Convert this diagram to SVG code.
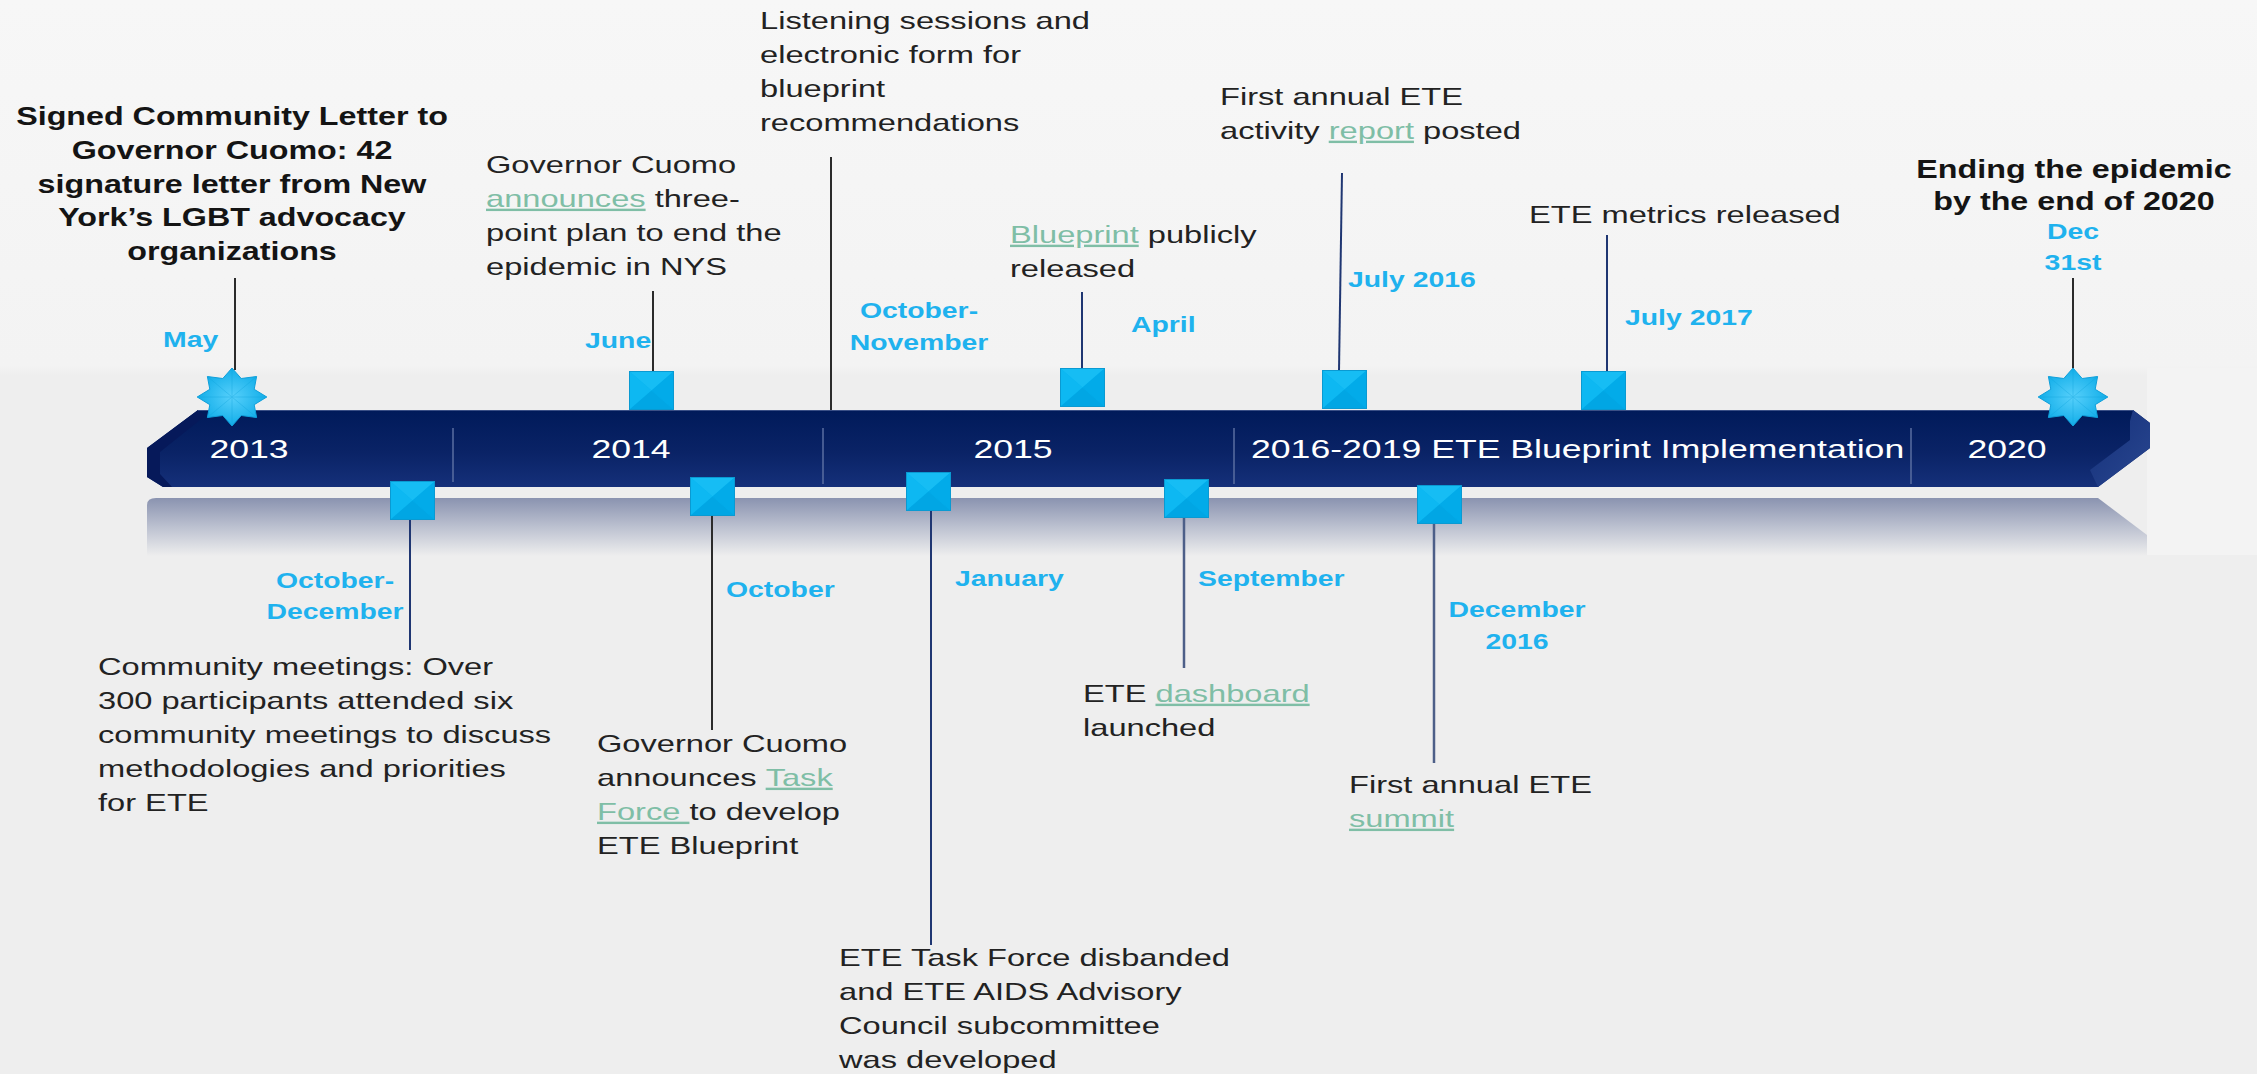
<svg xmlns="http://www.w3.org/2000/svg" xmlns:xlink="http://www.w3.org/1999/xlink" width="2257" height="1074" viewBox="0 0 2257 1074">
<defs>
<style>
.t{font-family:"Liberation Sans",Arial,sans-serif;font-size:24px;fill:#222}
.b{font-family:"Liberation Sans",Arial,sans-serif;font-size:25px;font-weight:bold;fill:#141414}
.d{font-family:"Liberation Sans",Arial,sans-serif;font-size:22px;font-weight:bold;fill:#1fb2ee}
.y{font-family:"Liberation Sans",Arial,sans-serif;font-size:26px;fill:#fff}
.lk{fill:#7fbea6;text-decoration:underline}
.cg{stroke:#2b2b2b;stroke-width:2;fill:none}
.cn{stroke:#1f3672;stroke-width:2;fill:none}
.cs{stroke:#4d5f88;stroke-width:2.5;fill:none}
.dv{stroke:#5a6ea0;stroke-width:1.5}
</style>
<linearGradient id="bg" x1="0" y1="0" x2="0" y2="1">
<stop offset="0" stop-color="#f7f7f7"/>
<stop offset="0.34" stop-color="#f3f3f3"/>
<stop offset="0.35" stop-color="#eeeeee"/>
<stop offset="1" stop-color="#eeeeee"/>
</linearGradient>
<linearGradient id="barg" x1="0" y1="0" x2="0" y2="1">
<stop offset="0" stop-color="#001a5a"/>
<stop offset="0.55" stop-color="#0a2366"/>
<stop offset="1" stop-color="#15307a"/>
</linearGradient>
<linearGradient id="refl" x1="0" y1="0" x2="0" y2="1">
<stop offset="0" stop-color="#8a93b0"/>
<stop offset="0.5" stop-color="#bcc1d0"/>
<stop offset="1" stop-color="#eeeeee"/>
</linearGradient>
<linearGradient id="bev" x1="0" y1="0" x2="1" y2="1">
<stop offset="0" stop-color="#14307a"/>
<stop offset="1" stop-color="#2a4790"/>
</linearGradient>
<radialGradient id="stg" cx="0.5" cy="0.5" r="0.5">
<stop offset="0" stop-color="#57d0fb"/>
<stop offset="1" stop-color="#12aee9"/>
</radialGradient>
<g id="sq">
<rect x="0" y="0" width="45" height="39" fill="#05b4f0"/>
<polygon points="0,0 45,0 22.5,19.5" fill="#16bdf4"/>
<polygon points="0,0 0,39 22.5,19.5" fill="#0db8f2"/>
<polygon points="45,0 45,39 22.5,19.5" fill="#02abe9"/>
<polygon points="0,39 45,39 22.5,19.5" fill="#01a6e4"/>
<rect x="0.5" y="0.5" width="44" height="38" fill="none" stroke="#0a9ad2" stroke-width="1"/>
</g>
<g id="star">
<polygon points="0,-29 9.2,-18.5 24.6,-20.5 22.2,-7.7 34.8,0 22.2,7.7 24.6,20.5 9.2,18.5 0,29 -9.2,18.5 -24.6,20.5 -22.2,7.7 -34.8,0 -22.2,-7.7 -24.6,-20.5 -9.2,-18.5" fill="url(#stg)" stroke="#0f9fda" stroke-width="1"/>
<path d="M0,-29 L0,29 M-34.8,0 L34.8,0 M-24.6,-20.5 L24.6,20.5 M24.6,-20.5 L-24.6,20.5" stroke="#0fa3dd" stroke-width="0.8" opacity="0.45"/>
</g>
</defs>

<rect x="0" y="0" width="2257" height="1074" fill="url(#bg)"/>
<rect x="2147" y="368" width="110" height="187" fill="#f3f3f3"/>

<g id="timeline-bar">
<path d="M147,505 Q147,498 156,498 L2098,498 L2147,535 L2147,556 L147,556 Z" fill="url(#refl)"/>
<path d="M198,410 L2133,410 L2150,423 L2150,448 L2098,487 L163,487 L147,477 L147,448 Z" fill="url(#barg)"/>
<path d="M198,410 L147,448 L147,477 L163,487 L172,487 L160,474 L160,452 L205,416 Z" fill="#06195a"/>
<path d="M2133,410 L2150,423 L2150,448 L2098,487 L2090,470 L2130,440 L2130,421 Z" fill="url(#bev)"/>
<line x1="198" y1="410.5" x2="2133" y2="410.5" stroke="#3a4f86" stroke-width="1"/>
<line class="dv" x1="453" y1="428" x2="453" y2="482"/>
<line class="dv" x1="823" y1="428" x2="823" y2="484"/>
<line class="dv" x1="1234" y1="428" x2="1234" y2="484"/>
<line class="dv" x1="1911" y1="428" x2="1911" y2="484"/>
<text class="y" text-anchor="middle" transform="translate(249,458) scale(1.37,1)">2013</text>
<text class="y" text-anchor="middle" transform="translate(631,458) scale(1.37,1)">2014</text>
<text class="y" text-anchor="middle" transform="translate(1013,458) scale(1.37,1)">2015</text>
<text class="y" transform="translate(1251,458) scale(1.37,1)">2016-2019 ETE Blueprint Implementation</text>
<text class="y" text-anchor="middle" transform="translate(2007,458) scale(1.37,1)">2020</text>
</g>

<g id="connectors">
<line class="cg" x1="235" y1="278" x2="235" y2="370"/>
<line class="cg" x1="653" y1="291" x2="653" y2="372"/>
<line class="cg" x1="831" y1="157" x2="831" y2="410"/>
<line class="cn" x1="1082" y1="292" x2="1082" y2="369"/>
<line class="cn" x1="1342" y1="173" x2="1339" y2="371"/>
<line class="cn" x1="1607" y1="235" x2="1607" y2="372"/>
<line class="cg" x1="2073" y1="278" x2="2073" y2="370"/>
<line class="cn" x1="410" y1="519" x2="410" y2="650"/>
<line class="cg" x1="712" y1="515" x2="712" y2="730"/>
<line class="cn" x1="931" y1="510" x2="931" y2="945"/>
<line class="cs" x1="1184" y1="517" x2="1184" y2="668"/>
<line class="cs" x1="1434" y1="524" x2="1434" y2="763"/>
</g>

<g id="node-may-2013">
<use xlink:href="#star" transform="translate(232,397)"/>
<text class="d" transform="translate(163,347) scale(1.29,1)">May</text>
<text class="b" text-anchor="middle" transform="translate(232,125) scale(1.29,1)"><tspan x="0" y="0">Signed Community Letter to</tspan><tspan x="0" y="34">Governor Cuomo: 42</tspan><tspan x="0" y="68">signature letter from New</tspan><tspan x="0" y="101">York’s LGBT advocacy</tspan><tspan x="0" y="135">organizations</tspan></text>
</g>

<g id="node-octdec-2013">
<use xlink:href="#sq" x="390" y="481"/>
<text class="d" text-anchor="middle" transform="translate(335,588) scale(1.29,1)"><tspan x="0" y="0">October-</tspan><tspan x="0" y="31">December</tspan></text>
<text class="t" transform="translate(98,675) scale(1.36,1)"><tspan x="0" y="0">Community meetings: Over</tspan><tspan x="0" y="34">300 participants attended six</tspan><tspan x="0" y="68">community meetings to discuss</tspan><tspan x="0" y="102">methodologies and priorities</tspan><tspan x="0" y="136">for ETE</tspan></text>
</g>

<g id="node-june-2014">
<use xlink:href="#sq" x="629" y="371"/>
<text class="d" transform="translate(585,348) scale(1.29,1)">June</text>
<text class="t" transform="translate(486,173) scale(1.36,1)"><tspan x="0" y="0">Governor Cuomo</tspan><tspan x="0" y="34"><tspan class="lk">announces</tspan> three-</tspan><tspan x="0" y="68">point plan to end the</tspan><tspan x="0" y="102">epidemic in NYS</tspan></text>
</g>

<g id="node-october-2014">
<use xlink:href="#sq" x="690" y="477"/>
<text class="d" transform="translate(726,597) scale(1.29,1)">October</text>
<text class="t" transform="translate(597,752) scale(1.36,1)"><tspan x="0" y="0">Governor Cuomo</tspan><tspan x="0" y="34">announces <tspan class="lk">Task</tspan></tspan><tspan x="0" y="68"><tspan class="lk">Force </tspan>to develop</tspan><tspan x="0" y="102">ETE Blueprint</tspan></text>
</g>

<g id="node-listening">
<text class="d" text-anchor="middle" transform="translate(919,318) scale(1.29,1)"><tspan x="0" y="0">October-</tspan><tspan x="0" y="32">November</tspan></text>
<text class="t" transform="translate(760,29) scale(1.36,1)"><tspan x="0" y="0">Listening sessions and</tspan><tspan x="0" y="34">electronic form for</tspan><tspan x="0" y="68">blueprint</tspan><tspan x="0" y="102">recommendations</tspan></text>
</g>

<g id="node-january-2015">
<use xlink:href="#sq" x="906" y="472"/>
<text class="d" transform="translate(955,586) scale(1.29,1)">January</text>
<text class="t" transform="translate(839,966) scale(1.36,1)"><tspan x="0" y="0">ETE Task Force disbanded</tspan><tspan x="0" y="34">and ETE AIDS Advisory</tspan><tspan x="0" y="68">Council subcommittee</tspan><tspan x="0" y="102">was developed</tspan></text>
</g>

<g id="node-april-2015">
<use xlink:href="#sq" x="1060" y="368"/>
<text class="d" transform="translate(1131,332) scale(1.29,1)">April</text>
<text class="t" transform="translate(1010,243) scale(1.36,1)"><tspan x="0" y="0"><tspan class="lk">Blueprint</tspan> publicly</tspan><tspan x="0" y="34">released</tspan></text>
</g>

<g id="node-september-2015">
<use xlink:href="#sq" x="1164" y="479"/>
<text class="d" transform="translate(1198,586) scale(1.29,1)">September</text>
<text class="t" transform="translate(1083,702) scale(1.36,1)"><tspan x="0" y="0">ETE <tspan class="lk">dashboard</tspan></tspan><tspan x="0" y="34">launched</tspan></text>
</g>

<g id="node-july-2016">
<use xlink:href="#sq" x="1322" y="370"/>
<text class="d" transform="translate(1348,287) scale(1.29,1)">July 2016</text>
<text class="t" transform="translate(1220,105) scale(1.36,1)"><tspan x="0" y="0">First annual ETE</tspan><tspan x="0" y="34">activity <tspan class="lk">report</tspan> posted</tspan></text>
</g>

<g id="node-december-2016">
<use xlink:href="#sq" x="1417" y="485"/>
<text class="d" text-anchor="middle" transform="translate(1517,617) scale(1.29,1)"><tspan x="0" y="0">December</tspan><tspan x="0" y="32">2016</tspan></text>
<text class="t" transform="translate(1349,793) scale(1.36,1)"><tspan x="0" y="0">First annual ETE</tspan><tspan x="0" y="34"><tspan class="lk">summit</tspan></tspan></text>
</g>

<g id="node-july-2017">
<use xlink:href="#sq" x="1581" y="371"/>
<text class="d" transform="translate(1625,325) scale(1.29,1)">July 2017</text>
<text class="t" transform="translate(1529,223) scale(1.36,1)">ETE metrics released</text>
</g>

<g id="node-dec-2020">
<use xlink:href="#star" transform="translate(2073,397)"/>
<text class="d" text-anchor="middle" transform="translate(2073,239) scale(1.29,1)"><tspan x="0" y="0">Dec</tspan><tspan x="0" y="31">31st</tspan></text>
<text class="b" text-anchor="middle" transform="translate(2074,178) scale(1.29,1)"><tspan x="0" y="0">Ending the epidemic</tspan><tspan x="0" y="32">by the end of 2020</tspan></text>
</g>
</svg>
